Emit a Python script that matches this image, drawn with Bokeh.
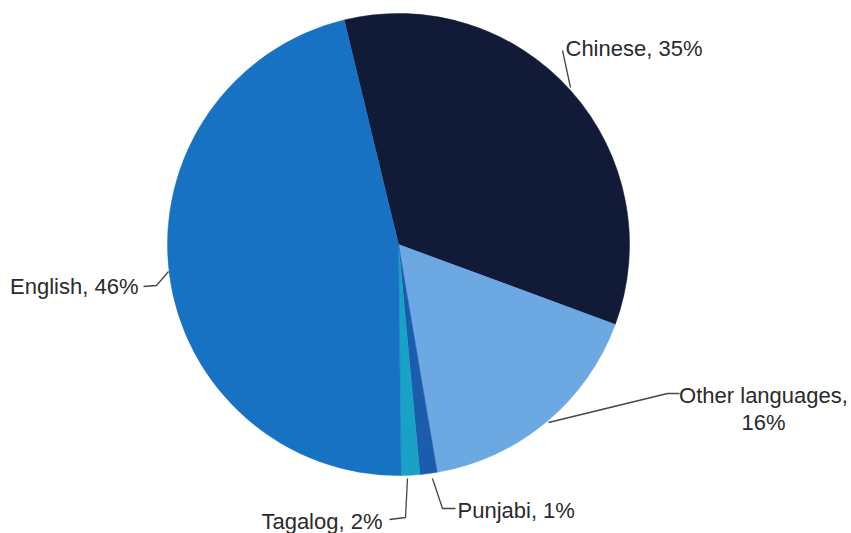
import math
from bokeh.plotting import figure
from bokeh.models import Range1d, ColumnDataSource
from bokeh.core.properties import value
from bokeh.embed import file_html
from bokeh.resources import INLINE

# ---- data ----
languages = ["Chinese", "Other languages", "Punjabi", "Tagalog", "English"]
shares = [34.4, 16.7, 1.2, 1.3, 46.4]          # slice sizes as drawn
label_pct = ["35%", "16%", "1%", "2%", "46%"]    # printed labels
colors = ["#111a36", "#6ca8e2", "#1b5cad", "#17a2c6", "#1872c3"]

W, H = 851, 533
p = figure(width=W, height=H, output_backend="svg", toolbar_location=None,
           x_range=Range1d(0, W), y_range=Range1d(0, H),
           min_border=0)
p.axis.visible = False
p.grid.visible = False
p.outline_line_color = None
p.background_fill_color = "white"
p.border_fill_color = "white"

def Y(yref):  # reference pixel row -> data y
    return 533 - yref

cx, cy, r = 398, Y(244), 231
start_deg = 103.6   # Chinese starts a little left of 12 o'clock, slices go clockwise
total = sum(shares)
starts, ends = [], []
cum = 0.0
for v in shares:
    a_hi = start_deg - cum / total * 360.0
    cum += v
    a_lo = start_deg - cum / total * 360.0
    starts.append(math.radians(a_lo))
    ends.append(math.radians(a_hi))

src = ColumnDataSource(dict(start=starts, end=ends, color=colors))
p.wedge(x=cx, y=cy, radius=r, start_angle="start", end_angle="end",
        direction="anticlock", fill_color="color", line_color="color",
        line_width=0.5, source=src)

# ---- leader lines (layout) ----
lc, lw = "#454545", 1.3
leaders = [
    ([570, 562], [87, 50]),                       # Chinese
    ([168, 156, 143], [271, 285, 286]),           # English
    ([548, 667, 679], [422, 393, 393]),           # Other languages
    ([407, 405, 389], [478, 517, 519]),           # Tagalog
    ([432, 442, 455], [478, 508, 508]),           # Punjabi
]
for xs, ys in leaders:
    p.line(xs, [Y(v) for v in ys], line_color=lc, line_width=lw)

# ---- labels ----
font = value("Liberation Sans")
fs = "22px"
tc = "#2a2a2a"
lab = {n: f"{n}, {pc}" for n, pc in zip(languages, label_pct)}
p.text(x=[565], y=[Y(48)], text=[lab["Chinese"]], text_font=font,
       text_font_size=fs, text_color=tc, text_baseline="alphabetic", text_align="left")
p.text(x=[138], y=[Y(286)], text=[lab["English"]], text_font=font,
       text_font_size=fs, text_color=tc, text_baseline="alphabetic", text_align="right")
p.text(x=[763, 763], y=[Y(395), Y(422)], text=["Other languages,", label_pct[1]],
       text_font=font, text_font_size=fs, text_color=tc,
       text_baseline="alphabetic", text_align="center")
p.text(x=[382], y=[Y(521)], text=[lab["Tagalog"]], text_font=font,
       text_font_size=fs, text_color=tc, text_baseline="alphabetic", text_align="right")
p.text(x=[457], y=[Y(510)], text=[lab["Punjabi"]], text_font=font,
       text_font_size=fs, text_color=tc, text_baseline="alphabetic", text_align="left")

open("out.html", "w").write(file_html(p, INLINE))
